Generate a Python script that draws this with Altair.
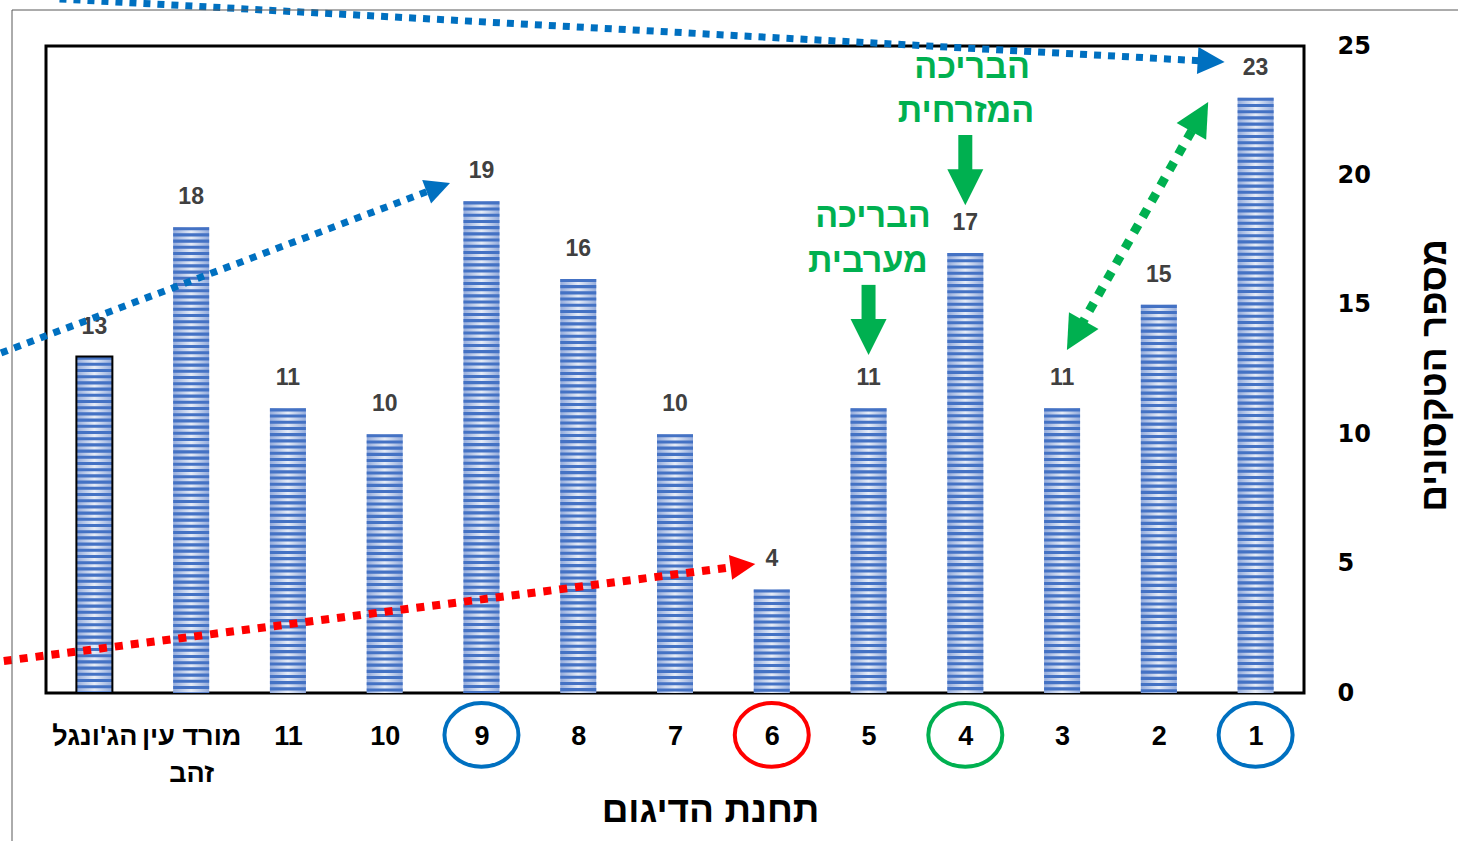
import json
import math
import altair as alt
import pandas as pd

# ---------------- data ----------------
stations = ["1", "2", "3", "4", "5", "6", "7", "8", "9", "10", "11", "מורד עין זהב", "הג'ונגל"]
label_lines = [["1"], ["2"], ["3"], ["4"], ["5"], ["6"], ["7"], ["8"], ["9"], ["10"], ["11"],
               ["מורד עין", "זהב"], ["הג'ונגל"]]
taxa = [23, 15, 11, 17, 11, 4, 10, 16, 19, 10, 11, 18, 13]
reference_station = "הג'ונגל"

circled_stations = ["1", "4", "6", "9"]
circle_colors = ["#0070c0", "#00b050", "#ff0000", "#0070c0"]

y_ticks = [0, 5, 10, 15, 20, 25]
x_title = "תחנת הדיגום"
y_title = "מספר הטקסונים"

# annotation anchors in data units (x = slot from left, y = number of taxa)
arrow_names = ["blue_top", "blue_mid", "red", "green"]
arrow_x0 = [-0.36, -1.10, -1.10, 10.05]
arrow_y0 = [26.82, 12.95, 1.16, 13.25]
arrow_x1 = [11.68, 3.675, 6.83, 11.51]
arrow_y1 = [24.38, 19.71, 4.98, 22.84]
arrow_colors = ["#0070c0", "#0070c0", "#ff0000", "#00b050"]
arrow_widths = [7, 7, 8, 9]
arrow_dash = [[7, 7], [7, 7], [8, 8], [9, 9]]
arrow_head = [27, 25, 25, 34]
arrow_both = [False, False, False, True]

pool_lines_1 = ["הבריכה", "המזרחית"]
pool_lines_2 = ["הבריכה", "מערבית"]
pool_text_x = [9.07, 9.007, 8.046, 7.994]
pool_text_y = [24.15, 22.45, 18.39, 16.65]
pool_arrow_x = [9.0, 8.0]
pool_arrow_top = [21.56, 15.77]
pool_arrow_mid = [20.10, 14.35]
pool_arrow_tip = [18.85, 13.06]
circle_y = -1.62

GREEN = "#00b050"
HEB = "Liberation Sans"

# ---------------- layout ----------------
W, H = 1258, 647
N = len(stations)
PX = W / N
PY = H / 25.0

xs = alt.Scale(domain=[-0.5, N - 0.5], nice=False, zero=False, padding=0)
ys = alt.Scale(domain=[0, 25], nice=False, zero=False)

df = pd.DataFrame({
    "station": stations,
    "taxa": taxa,
    "pos": [N - 1 - i for i in range(N)],
    "ref": [s == reference_station for s in stations],
})

ordered = [label_lines[N - 1 - p] for p in range(N)]
label_expr = json.dumps(ordered, ensure_ascii=False) + "[round(datum.value)]"

x_axis = alt.Axis(values=list(range(N)), labelExpr=label_expr, title=x_title,
                  labelFont=HEB, labelFontSize=27, labelFontWeight="bold", labelColor="black",
                  labelBaseline="top", labelPadding=30, labelLineHeight=37, labelAngle=0,
                  ticks=False, tickSize=0, domain=False, grid=False, labelFlush=False,
                  labelOverlap=False,
                  titleFont=HEB, titleFontSize=37, titleFontWeight="bold", titleColor="black",
                  titleX=664, titleY=117, titleBaseline="middle", titleAlign="center")
y_axis = alt.Axis(values=y_ticks, orient="right", title=y_title,
                  labelFont="DejaVu Sans", labelFontSize=24, labelFontWeight="bold", labelColor="black",
                  labelAlign="left", labelBaseline="middle", labelPadding=33,
                  ticks=False, tickSize=0, domain=False, grid=False,
                  titleFont=HEB, titleFontSize=37, titleFontWeight="bold", titleColor="black",
                  titleAngle=270, titleX=130, titleY=329, titleAlign="center", titleBaseline="middle")


def X(field):
    return alt.X(field, scale=xs, axis=x_axis)


def Y(field):
    return alt.Y(field, scale=ys, axis=y_axis)


base = alt.Chart(df)
bar_fill = alt.Gradient(gradient="linear", x1=0, y1=0, x2=1, y2=0,
                        stops=[alt.GradientStop(offset=0, color="#93abdc"),
                               alt.GradientStop(offset=0.5, color="#e6ecf7"),
                               alt.GradientStop(offset=1, color="#93abdc")])

bars = base.mark_bar(size=36, fill=bar_fill, orient="vertical").encode(
    x=X("pos:Q"), y=Y("taxa:Q"), y2=alt.datum(0),
)
stripes = base.mark_rule(strokeWidth=36, strokeDash=[3.1, 3.1], color="#4472c4", strokeCap="butt").encode(
    x=X("pos:Q"), y=Y("taxa:Q"), y2=alt.datum(0),
)
outline = base.transform_filter("datum.ref").mark_bar(
    size=36, fillOpacity=0, stroke="black", strokeWidth=2, orient="vertical").encode(
    x=X("pos:Q"), y=Y("taxa:Q"), y2=alt.datum(0),
)
values = base.mark_text(dy=-30, fontSize=23, fontWeight="bold", font=HEB, color="#404040",
                        baseline="middle").encode(
    x=X("pos:Q"), y=Y("taxa:Q"), text="taxa:Q",
)

layers = [bars, stripes, outline, values]

HEAD = "M0,0L1,2L-1,2Z"


def head_angle(dx, dy):
    sx, sy = dx * PX, -dy * PY
    return math.degrees(math.atan2(sx, -sy)) % 360


for i, name in enumerate(arrow_names):
    x0, y0, x1, y1 = arrow_x0[i], arrow_y0[i], arrow_x1[i], arrow_y1[i]
    sx, sy = (x1 - x0) * PX, (y1 - y0) * PY
    L = math.hypot(sx, sy)
    cut = arrow_head[i] * 0.8
    ex, ey = x1 - (x1 - x0) * cut / L, y1 - (y1 - y0) * cut / L
    if arrow_both[i]:
        bx, by = x0 + (x1 - x0) * cut / L, y0 + (y1 - y0) * cut / L
    else:
        bx, by = x0, y0
    ldf = pd.DataFrame({"pos": [bx, ex], "taxa": [by, ey], "o": [0, 1]})
    layers.append(alt.Chart(ldf).mark_line(color=arrow_colors[i], strokeWidth=arrow_widths[i],
                                           strokeDash=arrow_dash[i], strokeCap="butt").encode(
        x=X("pos:Q"), y=Y("taxa:Q"), order="o:Q"))
    hx, hy, ha = [x1], [y1], [head_angle(x1 - x0, y1 - y0)]
    if arrow_both[i]:
        hx.append(x0)
        hy.append(y0)
        ha.append(head_angle(x0 - x1, y0 - y1))
    for j in range(len(hx)):
        hdf = pd.DataFrame({"pos": [hx[j]], "taxa": [hy[j]]})
        layers.append(alt.Chart(hdf).mark_point(shape=HEAD, filled=True, opacity=1,
                                                size=arrow_head[i] ** 2, angle=ha[j],
                                                color=arrow_colors[i], strokeWidth=0).encode(
            x=X("pos:Q"), y=Y("taxa:Q")))

# pool labels and solid green arrows
tdf = pd.DataFrame({"pos": pool_text_x, "taxa": pool_text_y, "t": pool_lines_1 + pool_lines_2})
layers.append(alt.Chart(tdf).mark_text(font=HEB, fontSize=34, fontWeight="bold", color=GREEN,
                                       baseline="middle", align="center").encode(
    x=X("pos:Q"), y=Y("taxa:Q"), text="t:N"))
sdf = pd.DataFrame({"pos": pool_arrow_x, "taxa": pool_arrow_top, "mid": pool_arrow_mid, "tip": pool_arrow_tip})
layers.append(alt.Chart(sdf).mark_rule(color=GREEN, strokeWidth=14, strokeCap="butt").encode(
    x=X("pos:Q"), y=Y("taxa:Q"), y2="mid:Q"))
tipdf = pd.DataFrame({"pos": pool_arrow_x, "taxa": pool_arrow_tip})
layers.append(alt.Chart(tipdf).mark_point(shape=HEAD, filled=True, opacity=1, size=36 ** 2, angle=180,
                                          color=GREEN, strokeWidth=0).encode(
    x=X("pos:Q"), y=Y("taxa:Q")))

# circled station labels
cdf = pd.DataFrame({"pos": [N - 1 - stations.index(s) for s in circled_stations],
                    "taxa": [circle_y] * len(circled_stations), "c": circle_colors})
ELLIPSE = "M-1,0A1,0.86,0,1,0,1,0A1,0.86,0,1,0,-1,0Z"
layers.append(alt.Chart(cdf).mark_point(shape=ELLIPSE, filled=False, opacity=1, size=74 ** 2,
                                        strokeWidth=4).encode(
    x=X("pos:Q"), y=Y("taxa:Q"), stroke=alt.Stroke("c:N", scale=None)))

# outer chart-area border
fdf = pd.DataFrame({"k": [0]})
layers.append(alt.Chart(fdf).mark_rect(fillOpacity=0, stroke="#595959", strokeWidth=1).encode(
    x=alt.value(-34), x2=alt.value(1600), y=alt.value(-36), y2=alt.value(1000)))

chart = alt.layer(*layers).properties(
    width=W, height=H,
    autosize=alt.AutoSizeParams(type="none"),
    padding={"left": 46, "top": 46, "right": 154, "bottom": 148},
    background="white",
).configure_view(stroke="black", strokeWidth=3)

chart.save("out.html", embed_options={"renderer": "svg", "actions": False})
